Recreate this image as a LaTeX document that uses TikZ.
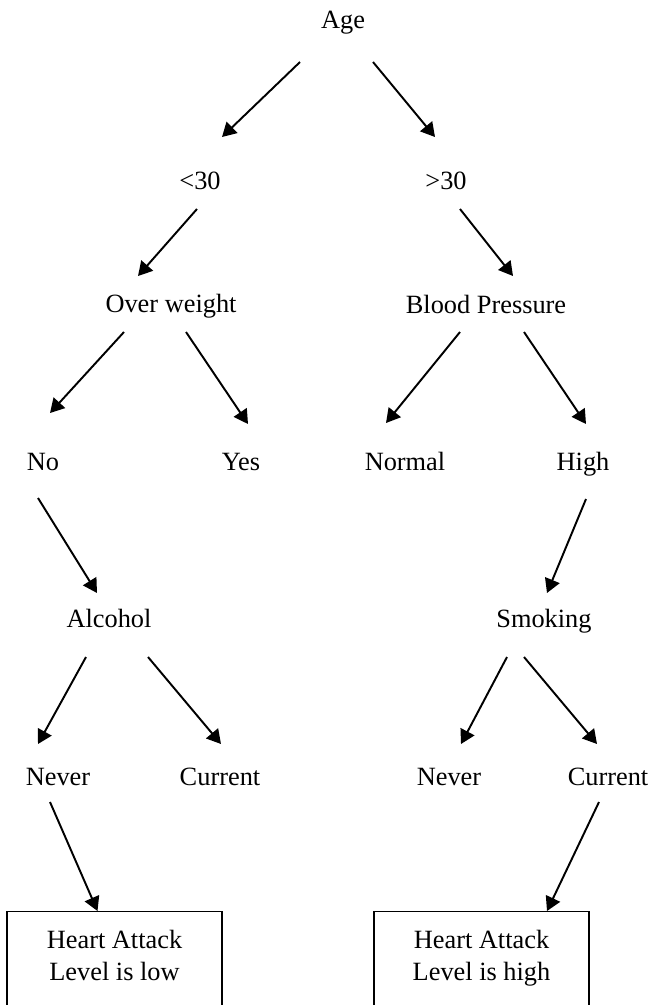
\documentclass[tikz,border=0pt]{standalone}
\usepackage{fontspec}
\setmainfont{Liberation Serif}
\usetikzlibrary{arrows.meta,calc}
\tikzset{
    treelabel/.style={font=\fontsize{15}{18.2}\selectfont, text height=0.7em,
        text depth=0.25em, inner sep=0pt},
    leafbox/.style={draw, line width=0.8pt, align=center, font=\fontsize{15}{18.2}\selectfont,
        minimum width=4.3cm, inner ysep=10.8pt, text depth=2cm, anchor=north},
    treearrow/.style={-{Triangle[length=0.28cm,width=0.31cm]}, line width=1.1pt}
}

\begin{document}
\begin{tikzpicture}[x=0.02cm, y=-0.02cm]
\useasboundingbox (0,0) rectangle (649,1005);
\clip (0,0) rectangle (649,1005);
% tree labels
\node[treelabel] (age) at (343,25) {Age};
\node[treelabel] (young) at (200,186) {<30};
\node[treelabel] (old) at (446,186) {>30};
\node[treelabel] (weight) at (171,309) {Over weight};
\node[treelabel] (pressure) at (486,310) {Blood Pressure};
\node[treelabel] (no) at (43,467) {No};
\node[treelabel] (yes) at (241,467) {Yes};
\node[treelabel] (normal) at (405,467) {Normal};
\node[treelabel] (high) at (583,467) {High};
\node[treelabel] (alcohol) at (109,624) {Alcohol};
\node[treelabel] (smoking) at (544,624) {Smoking};
\node[treelabel] (neverA) at (58,782) {Never};
\node[treelabel] (currentA) at (220,782) {Current};
\node[treelabel] (neverS) at (449,782) {Never};
\node[treelabel] (currentS) at (608,782) {Current};
% outcome boxes
\node[leafbox] (low) at (114.5,911) {Heart Attack\\Level is low};
\node[leafbox] (risk) at (481.5,911) {Heart Attack\\Level is high};
% arrows
\draw[treearrow] ($(age)+(-43,37)$) -- ($(young)+(22,-49)$);
\draw[treearrow] ($(age)+(30,37)$) -- ($(old)+(-11,-49)$);
\draw[treearrow] ($(young)+(-3,23)$) -- ($(weight)+(-33,-33)$);
\draw[treearrow] ($(old)+(14,23)$) -- ($(pressure)+(27,-34)$);
\draw[treearrow] ($(weight)+(-47,23)$) -- ($(no)+(7,-54)$);
\draw[treearrow] ($(weight)+(15,23)$) -- ($(yes)+(7,-43)$);
\draw[treearrow] ($(pressure)+(-26,22)$) -- ($(normal)+(-19,-44)$);
\draw[treearrow] ($(pressure)+(38,22)$) -- ($(high)+(3,-43)$);
\draw[treearrow] ($(no)+(-5,31)$) -- ($(alcohol)+(-12,-31)$);
\draw[treearrow] ($(high)+(3,32)$) -- ($(smoking)+(3,-31)$);
\draw[treearrow] ($(alcohol)+(-23,33)$) -- ($(neverA)+(-20,-38)$);
\draw[treearrow] ($(alcohol)+(39,33)$) -- ($(currentA)+(1,-38)$);
\draw[treearrow] ($(smoking)+(-37,33)$) -- ($(neverS)+(12,-38)$);
\draw[treearrow] ($(smoking)+(-20,33)$) -- ($(currentS)+(-11,-38)$);
\draw[treearrow] ($(neverA)+(-8,20)$) -- ($(low.north)+(-17,0)$);
\draw[treearrow] ($(currentS)+(-9,20)$) -- ($(risk.north)+(65.5,0)$);
\end{tikzpicture}
\end{document}
